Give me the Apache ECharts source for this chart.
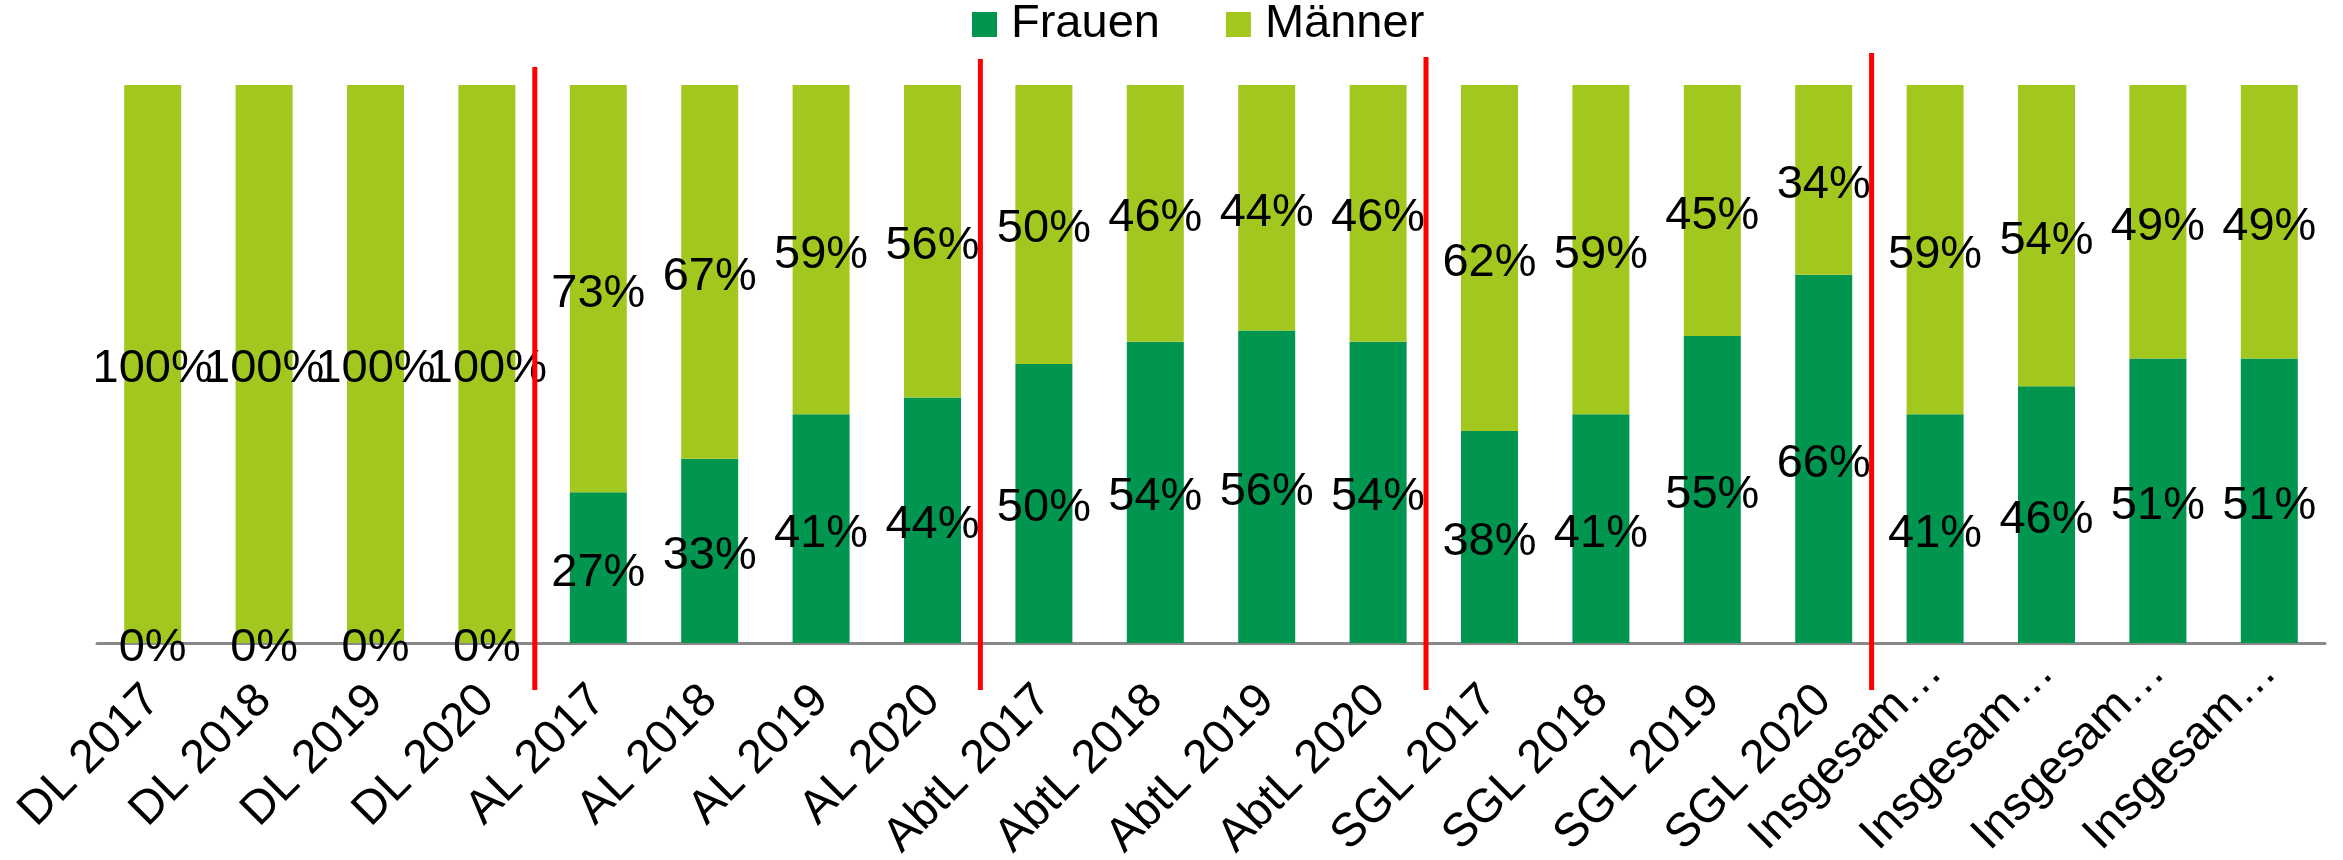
<!DOCTYPE html>
<html>
<head>
<meta charset="utf-8">
<script src="https://cdn.jsdelivr.net/npm/echarts@6/dist/echarts.min.js"></script>
<style>
  html, body { margin: 0; padding: 0; background: #fff; }
  #chart { width: 2343px; height: 860px; }
</style>
</head>
<body>
<div id="chart"></div>
<script>
// Kategorien
const categories = [
  'DL 2017', 'DL 2018', 'DL 2019', 'DL 2020',
  'AL 2017', 'AL 2018', 'AL 2019', 'AL 2020',
  'AbtL 2017', 'AbtL 2018', 'AbtL 2019', 'AbtL 2020',
  'SGL 2017', 'SGL 2018', 'SGL 2019', 'SGL 2020',
  'Insgesamt 2017', 'Insgesamt 2018', 'Insgesamt 2019', 'Insgesamt 2020'
]
// Anteile in %
const frauen = [0, 0, 0, 0, 27, 33, 41, 44, 50, 54, 56, 54, 38, 41, 55, 66, 41, 46, 51, 51]
const maenner = [100, 100, 100, 100, 73, 67, 59, 56, 50, 46, 44, 46, 62, 59, 45, 34, 59, 54, 49, 49]
// rote Trennlinien nach diesen Kategorien
const separators = [3, 7, 11, 15]
// ab hier die (abgeschnittenen) Insgesamt-Beschriftungen
const firstTotal = 16

const font = "'Liberation Sans', Arial, sans-serif"
const labelStyle = {
  show: true,
  position: 'inside',
  offset: [0, 5],
  formatter: '{c}%',
  color: '#000',
  fontSize: 47,
  fontFamily: font
}
const axisLabelBase = {
  rotate: 45,
  color: '#000',
  fontSize: 47,
  fontFamily: font,
  width: 256,
  overflow: 'truncate',
  ellipsis: '…'
}

const myChart = echarts.init(document.getElementById('chart'))
myChart.setOption({
  animation: false,
  legend: {
    top: 1,
    left: 972,
    padding: 0,
    icon: 'rect',
    itemWidth: 25,
    itemHeight: 25,
    itemGap: 66,
    textStyle: { fontSize: 47, fontFamily: font, color: '#000', padding: [0, 0, 0, 9] },
    data: ['Frauen', 'Männer']
  },
  grid: { left: 97, right: 18, top: 85, bottom: 217, outerBoundsMode: 'none' },
  xAxis: [{
    type: 'category',
    data: categories,
    axisLine: { lineStyle: { color: '#898989', width: 3 } },
    axisTick: { show: false },
    axisLabel: {
      ...axisLabelBase,
      margin: 50,
      interval: (i) => i < firstTotal
    }
  }, {
    // zweite Achse nur für die Insgesamt-Beschriftungen (sitzen höher)
    type: 'category',
    position: 'bottom',
    data: categories,
    axisLine: { show: false },
    axisTick: { show: false },
    axisLabel: {
      ...axisLabelBase,
      margin: 22,
      interval: (i) => i >= firstTotal
    }
  }],
  yAxis: {
    type: 'value',
    min: 0,
    max: 100,
    show: false,
    splitLine: { show: false }
  },
  series: [{
    name: 'Frauen',
    type: 'bar',
    stack: 'anteil',
    barWidth: 57,
    data: frauen,
    itemStyle: { color: '#00964F' },
    label: labelStyle
  }, {
    name: 'Männer',
    type: 'bar',
    stack: 'anteil',
    barWidth: 57,
    data: maenner,
    itemStyle: { color: '#A2C81F' },
    label: labelStyle
  }]
})

// rote Linien zwischen den Gruppen
const lineTops = [67, 59, 57, 53]
const elements = separators.map((idx, i) => {
  const a = myChart.convertToPixel({ xAxisIndex: 0 }, idx)
  const b = myChart.convertToPixel({ xAxisIndex: 0 }, idx + 1)
  const x = a + (b - a) * 0.43
  return {
    type: 'line',
    shape: { x1: x, y1: lineTops[i], x2: x, y2: 690 },
    style: { stroke: '#FF0000', lineWidth: 5 },
    z: 10
  }
})
myChart.setOption({ graphic: elements })
</script>
</body>
</html>
